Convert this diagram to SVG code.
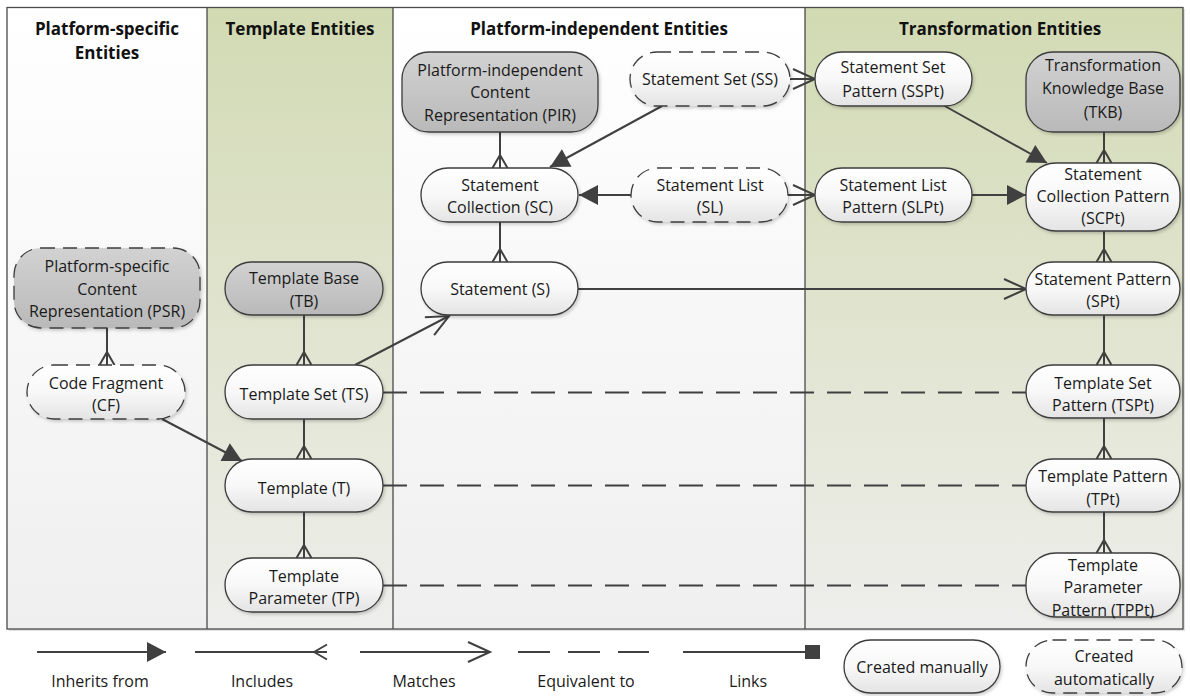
<svg xmlns="http://www.w3.org/2000/svg" width="1190" height="696" viewBox="0 0 1190 696">
  <style>
    .hdr { font-family: "Open Sans", "Liberation Sans", sans-serif; font-size: 17px; font-weight: bold; fill: #111; text-anchor: middle; }
    .lbl { font-family: "Open Sans", "Liberation Sans", sans-serif; font-size: 16px; fill: #1a1a1a; text-anchor: middle; }
    .leg { font-family: "Open Sans", "Liberation Sans", sans-serif; font-size: 16px; fill: #1a1a1a; text-anchor: middle; }
    .node { stroke: #3c3c3c; stroke-width: 1.3; filter: url(#shadow); }
    .manual { fill: url(#whiteFill); }
    .base { fill: url(#grayFill); }
    .auto { stroke-dasharray: 14 8; }
    .lane { stroke: #4a4a4a; stroke-width: 1.3; }
    .conn { stroke: #404040; stroke-width: 2; fill: none; }
    .inc { marker-end: url(#crow); }
    .inh { marker-end: url(#inherit); }
    .mat { marker-end: url(#match); }
    .eqv { stroke-dasharray: 24 13; }
  </style>
  <defs>
    <linearGradient id="whiteFill" x1="0" y1="0" x2="0" y2="1">
      <stop offset="0" stop-color="#ffffff"/>
      <stop offset="0.5" stop-color="#f8f8f8"/>
      <stop offset="1" stop-color="#e4e4e4"/>
    </linearGradient>
    <linearGradient id="grayFill" x1="0" y1="0" x2="0" y2="1">
      <stop offset="0" stop-color="#d2d2d2"/>
      <stop offset="1" stop-color="#b9b9b9"/>
    </linearGradient>
    <linearGradient id="plainLane" x1="0" y1="0" x2="0" y2="1">
      <stop offset="0" stop-color="#ffffff"/>
      <stop offset="1" stop-color="#efefef"/>
    </linearGradient>
    <linearGradient id="greenLane" x1="0" y1="0" x2="0" y2="1">
      <stop offset="0" stop-color="#d2dab3"/>
      <stop offset="0.45" stop-color="#dfe3cc"/>
      <stop offset="1" stop-color="#eeeeec"/>
    </linearGradient>
    <filter id="shadow" x="-10%" y="-10%" width="125%" height="135%">
      <feDropShadow dx="1.5" dy="2" stdDeviation="1.5" flood-color="#000" flood-opacity="0.18"/>
    </filter>
    <marker id="crow" markerUnits="userSpaceOnUse" markerWidth="30" markerHeight="30" refX="0" refY="0" orient="auto" overflow="visible">
      <path d="M-13,0 L0,-7.5 M-13,0 L0,7.5" fill="none" stroke="#404040" stroke-width="2"/>
    </marker>
    <marker id="inherit" markerUnits="userSpaceOnUse" markerWidth="30" markerHeight="30" refX="0" refY="0" orient="auto" overflow="visible">
      <path d="M-19,-10 L0,0 L-19,10 Z" fill="#404040" stroke="none"/>
    </marker>
    <marker id="match" markerUnits="userSpaceOnUse" markerWidth="30" markerHeight="30" refX="0" refY="0" orient="auto" overflow="visible">
      <path d="M-22,-10 L0,0 L-22,10" fill="none" stroke="#404040" stroke-width="2"/>
    </marker>
  </defs>

  <rect width="1190" height="696" fill="#ffffff"/>

  <!-- swimlanes -->
  <g id="lanes">
    <rect x="9" y="9" width="1176" height="622" fill="#000" opacity="0.12"/>
    <rect x="7" y="7.5" width="200" height="621.5" fill="url(#plainLane)"/>
    <rect x="207" y="7.5" width="186" height="621.5" fill="url(#greenLane)"/>
    <rect x="393" y="7.5" width="412" height="621.5" fill="url(#plainLane)"/>
    <rect x="805" y="7.5" width="378" height="621.5" fill="url(#greenLane)"/>
    <rect x="7" y="7.5" width="1176" height="621.5" fill="none" class="lane"/>
    <line x1="207" y1="7.5" x2="207" y2="629" class="lane"/>
    <line x1="393" y1="7.5" x2="393" y2="629" class="lane"/>
    <line x1="805" y1="7.5" x2="805" y2="629" class="lane"/>
    <text class="hdr" x="107" y="35">Platform-specific</text>
    <text class="hdr" x="107" y="59">Entities</text>
    <text class="hdr" x="300" y="35">Template Entities</text>
    <text class="hdr" x="599" y="35">Platform-independent Entities</text>
    <text class="hdr" x="1000" y="35">Transformation Entities</text>
  </g>

  <!-- connectors -->
  <g id="connectors">
    <!-- includes -->
    <line class="conn inc" x1="107" y1="328" x2="107" y2="365"/>
    <line class="conn inc" x1="304" y1="315" x2="304" y2="365"/>
    <line class="conn inc" x1="304" y1="419" x2="304" y2="459"/>
    <line class="conn inc" x1="304" y1="512" x2="304" y2="558"/>
    <line class="conn inc" x1="500" y1="132" x2="500" y2="168"/>
    <line class="conn inc" x1="500" y1="222" x2="500" y2="262"/>
    <line class="conn inc" x1="1104" y1="132" x2="1104" y2="163"/>
    <line class="conn inc" x1="1104" y1="231" x2="1104" y2="262"/>
    <line class="conn inc" x1="1104" y1="315" x2="1104" y2="365"/>
    <line class="conn inc" x1="1104" y1="418" x2="1104" y2="459"/>
    <line class="conn inc" x1="1104" y1="512" x2="1104" y2="553"/>
    <!-- inherits -->
    <line class="conn inh" x1="162" y1="419" x2="242" y2="461"/>
    <line class="conn inh" x1="662" y1="106" x2="550" y2="167"/>
    <line class="conn inh" x1="631" y1="195" x2="579" y2="195"/>
    <line class="conn inh" x1="943" y1="105" x2="1047" y2="163"/>
    <line class="conn inh" x1="972" y1="195" x2="1026" y2="195"/>
    <!-- matches -->
    <line class="conn mat" x1="355" y1="365" x2="449" y2="316"/>
    <line class="conn mat" x1="578" y1="289" x2="1026" y2="289"/>
    <line class="conn mat" x1="790" y1="79" x2="815" y2="79"/>
    <line class="conn mat" x1="788" y1="195" x2="815" y2="195"/>
    <!-- equivalent to -->
    <line class="conn eqv" x1="383" y1="392.5" x2="1026" y2="392.5"/>
    <line class="conn eqv" x1="383" y1="485.5" x2="1026" y2="485.5"/>
    <line class="conn eqv" x1="383" y1="585.5" x2="1026" y2="585.5"/>
  </g>

  <!-- platform-specific entities -->
  <g id="node-psr">
    <rect class="node base auto" x="14" y="248" width="186" height="80" rx="27"/>
    <text class="lbl" x="107" y="272">Platform-specific</text>
    <text class="lbl" x="107" y="294.5">Content</text>
    <text class="lbl" x="107" y="317">Representation (PSR)</text>
  </g>
  <g id="node-cf">
    <rect class="node manual auto" x="27" y="365" width="158" height="54" rx="27"/>
    <text class="lbl" x="106" y="388.5">Code Fragment</text>
    <text class="lbl" x="106" y="411">(CF)</text>
  </g>

  <!-- template entities -->
  <g id="node-tb">
    <rect class="node base" x="225" y="262" width="158" height="53" rx="26.5"/>
    <text class="lbl" x="304" y="284">Template Base</text>
    <text class="lbl" x="304" y="307">(TB)</text>
  </g>
  <g id="node-ts">
    <rect class="node manual" x="225" y="365" width="158" height="54" rx="27"/>
    <text class="lbl" x="304" y="399.5">Template Set (TS)</text>
  </g>
  <g id="node-t">
    <rect class="node manual" x="225" y="459" width="158" height="53" rx="26.5"/>
    <text class="lbl" x="304" y="493.5">Template (T)</text>
  </g>
  <g id="node-tp">
    <rect class="node manual" x="225" y="558" width="158" height="54" rx="27"/>
    <text class="lbl" x="304" y="581.5">Template</text>
    <text class="lbl" x="304" y="604">Parameter (TP)</text>
  </g>

  <!-- platform-independent entities -->
  <g id="node-pir">
    <rect class="node base" x="402" y="52" width="196" height="80" rx="27"/>
    <text class="lbl" x="500" y="75.5">Platform-independent</text>
    <text class="lbl" x="500" y="98">Content</text>
    <text class="lbl" x="500" y="120.5">Representation (PIR)</text>
  </g>
  <g id="node-ss">
    <rect class="node manual auto" x="630" y="52" width="160" height="54" rx="27"/>
    <text class="lbl" x="710" y="84.5">Statement Set (SS)</text>
  </g>
  <g id="node-sc">
    <rect class="node manual" x="421" y="168" width="157" height="54" rx="27"/>
    <text class="lbl" x="500" y="190.5">Statement</text>
    <text class="lbl" x="500" y="213">Collection (SC)</text>
  </g>
  <g id="node-sl">
    <rect class="node manual auto" x="631" y="168" width="157" height="54" rx="27"/>
    <text class="lbl" x="710" y="190.5">Statement List</text>
    <text class="lbl" x="710" y="213">(SL)</text>
  </g>
  <g id="node-s">
    <rect class="node manual" x="421" y="262" width="157" height="53" rx="26.5"/>
    <text class="lbl" x="500" y="294.5">Statement (S)</text>
  </g>

  <!-- transformation entities -->
  <g id="node-sspt">
    <rect class="node manual" x="815" y="52" width="157" height="54" rx="27"/>
    <text class="lbl" x="893" y="72.5">Statement Set</text>
    <text class="lbl" x="893" y="96.5">Pattern (SSPt)</text>
  </g>
  <g id="node-tkb">
    <rect class="node base" x="1026" y="52" width="154" height="80" rx="27"/>
    <text class="lbl" x="1103" y="70.5">Transformation</text>
    <text class="lbl" x="1103" y="94">Knowledge Base</text>
    <text class="lbl" x="1103" y="117.5">(TKB)</text>
  </g>
  <g id="node-slpt">
    <rect class="node manual" x="815" y="168" width="157" height="54" rx="27"/>
    <text class="lbl" x="893" y="190.5">Statement List</text>
    <text class="lbl" x="893" y="213">Pattern (SLPt)</text>
  </g>
  <g id="node-scpt">
    <rect class="node manual" x="1026" y="163" width="154" height="68" rx="30"/>
    <text class="lbl" x="1103" y="179.5">Statement</text>
    <text class="lbl" x="1103" y="202">Collection Pattern</text>
    <text class="lbl" x="1103" y="224">(SCPt)</text>
  </g>
  <g id="node-spt">
    <rect class="node manual" x="1026" y="262" width="154" height="53" rx="26.5"/>
    <text class="lbl" x="1103" y="284.5">Statement Pattern</text>
    <text class="lbl" x="1103" y="307">(SPt)</text>
  </g>
  <g id="node-tspt">
    <rect class="node manual" x="1026" y="365" width="154" height="53" rx="26.5"/>
    <text class="lbl" x="1103" y="388.5">Template Set</text>
    <text class="lbl" x="1103" y="411">Pattern (TSPt)</text>
  </g>
  <g id="node-tpt">
    <rect class="node manual" x="1026" y="459" width="154" height="53" rx="26.5"/>
    <text class="lbl" x="1103" y="481.5">Template Pattern</text>
    <text class="lbl" x="1103" y="504.5">(TPt)</text>
  </g>
  <g id="node-tppt">
    <rect class="node manual" x="1026" y="553" width="154" height="64" rx="30"/>
    <text class="lbl" x="1103" y="570.5">Template</text>
    <text class="lbl" x="1103" y="593">Parameter</text>
    <text class="lbl" x="1103" y="615.5">Pattern (TPPt)</text>
  </g>

  <!-- legend -->
  <g id="legend">
    <line class="conn inh" x1="37" y1="652" x2="166" y2="652"/>
    <text class="leg" x="100" y="686.5">Inherits from</text>
    <line class="conn inc" x1="195" y1="652" x2="327" y2="652"/>
    <text class="leg" x="262" y="686.5">Includes</text>
    <line class="conn mat" x1="360" y1="652" x2="490" y2="652"/>
    <text class="leg" x="424" y="686.5">Matches</text>
    <line class="conn" x1="518" y1="652" x2="649" y2="652" stroke-dasharray="32 18"/>
    <text class="leg" x="586" y="686.5">Equivalent to</text>
    <line class="conn" x1="683" y1="652" x2="810" y2="652"/>
    <rect x="805" y="645" width="15" height="14" fill="#404040"/>
    <text class="leg" x="748" y="686.5">Links</text>
    <rect class="node manual" x="844" y="640" width="156" height="53" rx="26.5"/>
    <text class="lbl" x="922" y="672.5">Created manually</text>
    <rect class="node manual auto" x="1026" y="640" width="156" height="53" rx="26.5"/>
    <text class="lbl" x="1104" y="661.5">Created</text>
    <text class="lbl" x="1104" y="684.5">automatically</text>
  </g>
</svg>
